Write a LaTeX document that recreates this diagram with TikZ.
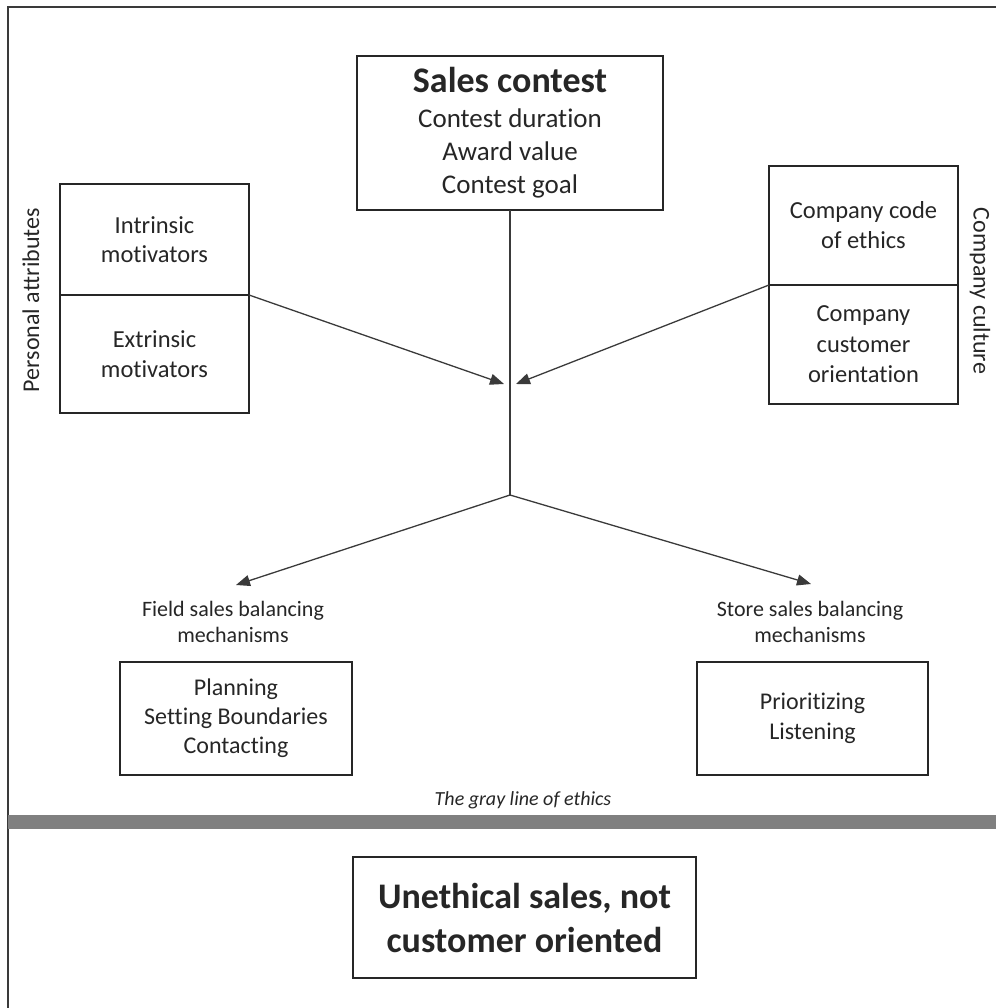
\documentclass[tikz,border=0pt]{standalone}
\usepackage{fontspec}
\setmainfont{Carlito}[Ligatures=NoCommon]
\usetikzlibrary{arrows.meta}
\definecolor{ink}{HTML}{262626}
\definecolor{linec}{HTML}{3A3A3A}
\definecolor{barc}{HTML}{808080}
\begin{document}
\begin{tikzpicture}[x=1pt,y=-1pt,
  box/.style={draw=ink, line width=1.3pt, rectangle, inner sep=0pt, outer sep=0pt, align=center, text=ink},
  plain/.style={inner sep=0pt, outer sep=0pt, align=center, text=ink},
  conn/.style={draw=linec, line width=1.3pt},
  arrowc/.style={conn, -{Triangle[length=14pt,width=11pt]}},
  framec/.style={draw=linec, line width=1.6pt}
]
\useasboundingbox (0,0) rectangle (996,1008);
% frame
\draw[framec] (8,1008) -- (8,7) -- (996,7);
% top box
\node[box, minimum width=306pt, minimum height=154pt, font=\fontsize{27}{33}\selectfont] (contest) at (510,133)
  {{\fontsize{36}{36}\selectfont\bfseries Sales contest}\\[2pt]Contest duration\\Award value\\Contest goal};
% personal attributes
\node[box, minimum width=189pt, minimum height=111pt, font=\fontsize{24.5}{29.5}\selectfont] (intr) at (154.5,239.5) {Intrinsic\\motivators};
\node[box, minimum width=189pt, minimum height=118pt, font=\fontsize{24.5}{29.5}\selectfont] (extr) at (154.5,354) {Extrinsic\\motivators};
\node[plain, rotate=90, font=\fontsize{24}{29}\selectfont] (personal) at (31,300) {Personal attributes};
% company culture
\node[box, minimum width=189pt, minimum height=119pt, font=\fontsize{24.5}{30}\selectfont] (code) at (863.5,225.5) {Company code\\of ethics};
\node[box, minimum width=189pt, minimum height=119pt, font=\fontsize{24.5}{30.5}\selectfont] (orient) at (863.5,344.5) {Company\\customer\\orientation};
\node[plain, rotate=-90, font=\fontsize{24}{29}\selectfont] (culture) at (980,291) {Company culture};
% connectors
\coordinate (junction) at (510,495);
\coordinate (tipL) at (504,384);
\coordinate (tipR) at (516,384);
\coordinate (tipF) at (236,585);
\coordinate (tipS) at (811,584);
\draw[conn] (contest.south) -- (junction);
\draw[arrowc] (intr.south east) -- (tipL);
\draw[arrowc] (code.south west) -- (tipR);
\draw[arrowc] (junction) -- (tipF);
\draw[arrowc] (junction) -- (tipS);
% balancing mechanisms
\node[plain, font=\fontsize{22}{26.5}\selectfont] (fieldlbl) at (233,622) {Field sales balancing\\mechanisms};
\node[plain, font=\fontsize{22}{26.5}\selectfont] (storelbl) at (810,622) {Store sales balancing\\mechanisms};
\node[box, minimum width=232pt, minimum height=113pt, font=\fontsize{24}{29}\selectfont] (field) at (236,718.5) {Planning\\Setting Boundaries\\Contacting};
\node[box, minimum width=231pt, minimum height=113pt, font=\fontsize{24}{30}\selectfont] (store) at (812.5,718.5) {Prioritizing\\Listening};
% gray line
\node[plain, font=\fontsize{20}{24}\selectfont\itshape] (grayline) at (523,800) {The gray line of ethics};
\fill[barc] (8,815) rectangle (996,829);
% bottom box
\node[box, minimum width=343pt, minimum height=121pt, font=\fontsize{36}{44}\selectfont\bfseries] (unethical) at (524.5,917.5) {Unethical sales, not\\customer oriented};
\end{tikzpicture}
\end{document}
